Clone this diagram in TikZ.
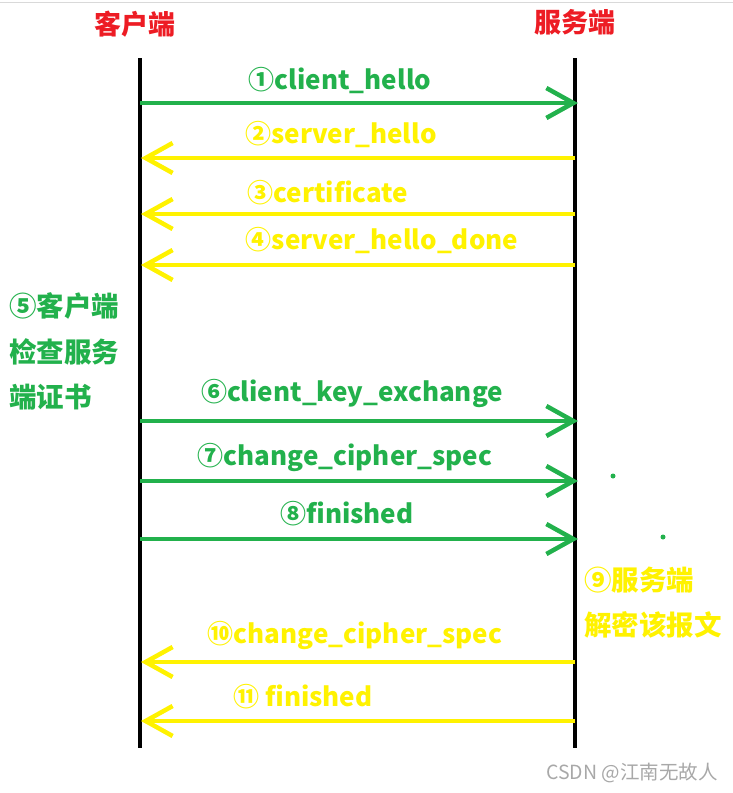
\documentclass[tikz,border=0pt]{standalone}
\usepackage{fontspec}
\setmainfont{Noto Sans CJK SC}
\usepackage{xcolor}
\usepackage{tikz}
\usetikzlibrary{
arrows.meta,
positioning
}
\definecolor{paintgreen}{HTML}{22B14C}
\definecolor{paintyellow}{HTML}{FFF200}
\definecolor{paintred}{HTML}{ED1C24}
\definecolor{mark}{HTML}{A8A8A8}

\tikzset{
lifeline/.style={line width=4pt, black},
msggreen/.style={line width=4.5pt, paintgreen, -{Straight Barb[length=27pt,width=30pt]}},
msgyellow/.style={line width=4.5pt, paintyellow, -{Straight Barb[length=27pt,width=30pt]}},
greentext/.style={text=paintgreen, font=\bfseries\fontsize{26}{30}\selectfont, inner sep=0pt},
yellowtext/.style={text=paintyellow, font=\bfseries\fontsize{26}{30}\selectfont, inner sep=0pt},
sidetext/.style={font=\bfseries\fontsize{27.5}{32}\selectfont, inner sep=0pt, anchor=west},
headtext/.style={text=paintred, font=\bfseries\fontsize{27}{32}\selectfont, inner sep=0pt}
}

\begin{document}
\begin{tikzpicture}[x=1pt,y=-1pt]

\useasboundingbox (0,0) rectangle (733,793);
\draw[black!15, line width=1pt] (0,2) -- (733,2);

\node[headtext] (client) at (135,24) {客户端};
\node[headtext] (server) at (575,22) {服务端};

\coordinate (ctop) at (140,58);
\coordinate (cbot) at (140,748);
\coordinate (stop) at (575,58);
\coordinate (sbot) at (575,748);
\draw[lifeline] (ctop) -- (cbot);
\draw[lifeline] (stop) -- (sbot);

\coordinate (c1) at (140,103);
\coordinate (s1) at (578,103);
\coordinate (c2) at (141,158);
\coordinate (s2) at (575,158);
\coordinate (c3) at (141,214);
\coordinate (s3) at (575,214);
\coordinate (c4) at (141,265);
\coordinate (s4) at (575,265);
\coordinate (c6) at (140,421);
\coordinate (s6) at (578,421);
\coordinate (c7) at (140,481);
\coordinate (s7) at (578,481);
\coordinate (c8) at (140,539);
\coordinate (s8) at (578,539);
\coordinate (c10) at (141,662);
\coordinate (s10) at (575,662);
\coordinate (c11) at (141,721);
\coordinate (s11) at (575,721);

\draw[msggreen] (c1) -- (s1);
\draw[msgyellow] (s2) -- (c2);
\draw[msgyellow] (s3) -- (c3);
\draw[msgyellow] (s4) -- (c4);
\draw[msggreen] (c6) -- (s6);
\draw[msggreen] (c7) -- (s7);
\draw[msggreen] (c8) -- (s8);
\draw[msgyellow] (s10) -- (c10);
\draw[msgyellow] (s11) -- (c11);

\node[greentext] (hello) at (340,80) {①client\_hello};
\node[yellowtext] (shello) at (341,134) {②server\_hello};
\node[yellowtext] (cert) at (328,193) {③certificate};
\node[yellowtext] (done) at (382,240) {④server\_hello\_done};
\node[greentext] (keyex) at (352,393) {⑥client\_key\_exchange};
\node[greentext] (ccs) at (345,457) {⑦change\_cipher\_spec};
\node[greentext] (fin) at (347,514) {⑧finished};
\node[yellowtext] (sccs) at (355,635) {⑩change\_cipher\_spec};
\node[yellowtext] (sfin) at (303,697) {⑪ finished};

\node[sidetext, text=paintgreen] (check1) at (9,306) {⑤客户端};
\node[sidetext, text=paintgreen] (check2) at (9,352) {检查服务};
\node[sidetext, text=paintgreen] (check3) at (9,397) {端证书};

\node[sidetext, text=paintyellow] (dec1) at (584,580) {⑨服务端};
\node[sidetext, text=paintyellow] (dec2) at (584,625) {解密该报文};

\fill[paintgreen] (613,476) circle (2.5pt);
\fill[paintgreen] (663,537) circle (2.5pt);

\node[text=mark, font=\fontsize{19.5}{22}\selectfont, inner sep=0pt, anchor=east] (csdn) at (718,773) {CSDN @江南无故人};

\end{tikzpicture}
\end{document}
